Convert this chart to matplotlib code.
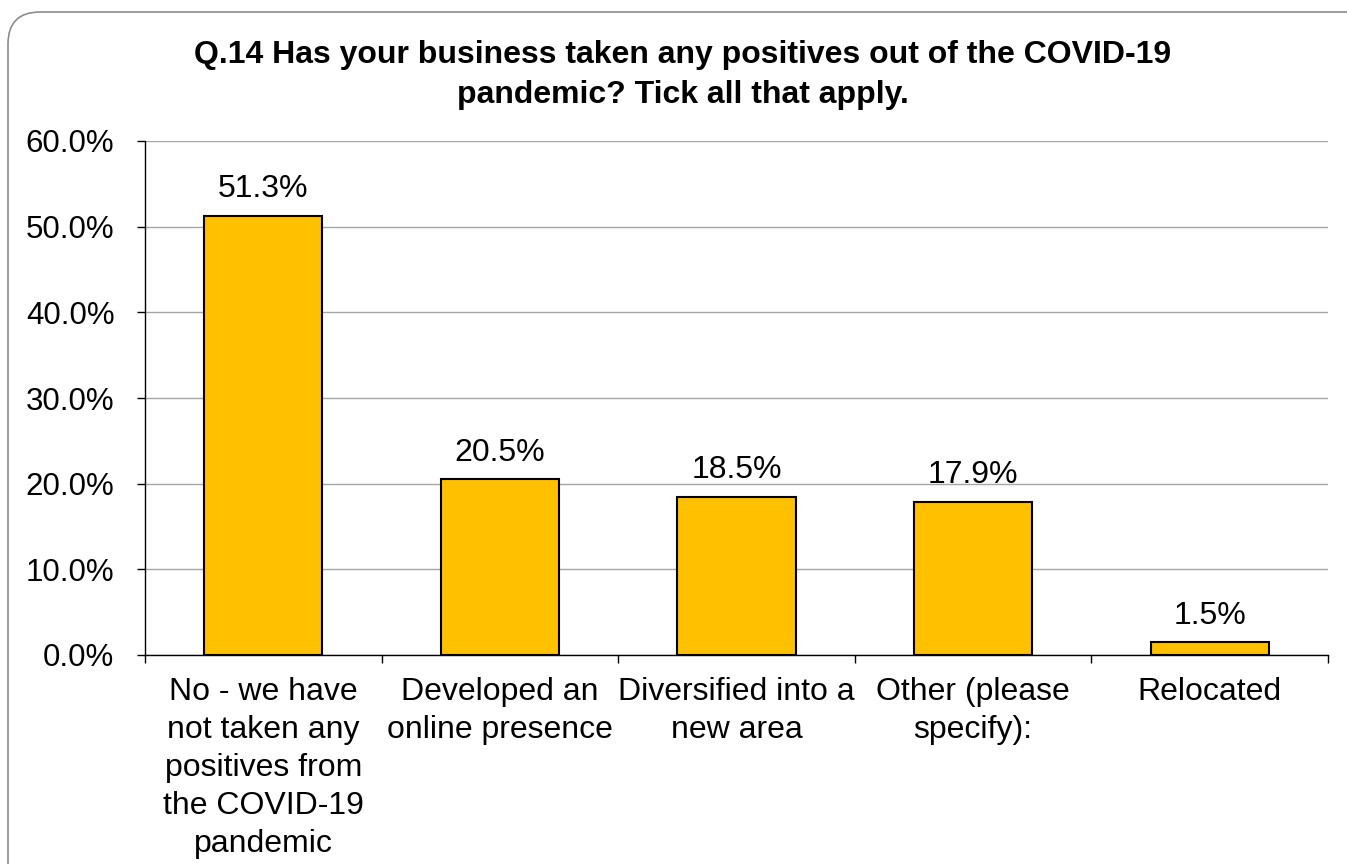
import matplotlib.pyplot as plt
from matplotlib.patches import FancyBboxPatch
from matplotlib.transforms import IdentityTransform
from matplotlib.ticker import PercentFormatter, FixedLocator
import numpy as np

plt.rcParams['font.family'] = ['Liberation Sans', 'DejaVu Sans']

categories = ['No - we have\nnot taken any\npositives from\nthe COVID-19\npandemic',
              'Developed an\nonline presence',
              'Diversified into a\nnew area',
              'Other (please\nspecify):',
              'Relocated']
values = [51.3, 20.5, 18.5, 17.9, 1.5]
title = 'Q.14 Has your business taken any positives out of the COVID-19\npandemic? Tick all that apply.'

W, H = 1347, 864
fig = plt.figure(figsize=(W / 100, H / 100), dpi=100)

# rounded frame round the whole chart (pixel coords, origin bottom-left)
frame = FancyBboxPatch((8, -60), W + 40, H - 12 + 60,
                       boxstyle='round,pad=0,rounding_size=32',
                       transform=IdentityTransform(), facecolor='white',
                       edgecolor='#8c8c8c', linewidth=1.2, zorder=-10)
fig.patches.append(frame)

ax = fig.add_axes([145 / W, 1 - 655 / H, (1328 - 145) / W, (655 - 141) / H])
ax.set_facecolor('none')
ax.set_zorder(5)

x = np.arange(len(values))
ax.bar(x, values, width=0.5, color='#FFC000', edgecolor='black', linewidth=1.5, zorder=3)
for xi, v in zip(x, values):
    ax.text(xi, v + 3.1, f'{v:.1f}%', ha='center', va='center', fontsize=23)

ax.set_xlim(-0.5, len(values) - 0.5)
ax.set_ylim(0, 60)
ax.yaxis.set_major_locator(FixedLocator(np.arange(0, 61, 10)))
ax.yaxis.set_major_formatter(PercentFormatter(decimals=1))
ax.grid(axis='y', color='#a6a6a6', linewidth=1.0, zorder=0)

ax.set_xticks(x)
ax.set_xticklabels(categories, fontsize=23, linespacing=1.34)
ax.set_xticks(np.arange(-0.5, len(values)), minor=True)
ax.tick_params(axis='x', which='major', length=0, pad=16)
ax.tick_params(axis='x', which='minor', length=5.5, width=1, direction='out')
ax.tick_params(axis='y', labelsize=22.5, length=6, width=1, direction='out', pad=16)

for s in ['top', 'right']:
    ax.spines[s].set_visible(False)
for s in ['left', 'bottom']:
    ax.spines[s].set_linewidth(1)

fig.text(683 / W, 1 - 75 / H, title, ha='center', va='center', fontsize=23,
         fontweight='bold', linespacing=1.47, zorder=6)

fig.savefig('out.png', dpi=100)
